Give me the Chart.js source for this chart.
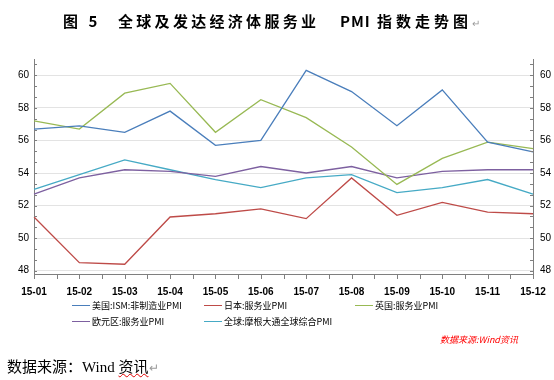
<!DOCTYPE html>
<html>
<head>
<meta charset="utf-8">
<script src="https://cdn.jsdelivr.net/npm/chart.js@4.4.1/dist/chart.umd.min.js"></script>
<style>
  body { margin: 0; background: #fff; }
  #wrap { position: relative; width: 554px; height: 380px; overflow: hidden; }
  #c { position: absolute; left: 0; top: 0; }
  .t { position: absolute; top: 12px; font: bold 15px "Noto Sans CJK SC", sans-serif; letter-spacing: 3.5px; line-height: 18px; color: #000; white-space: nowrap; }
  .pm { font-size: 10px; color: #999; font-weight: normal; letter-spacing: 0; }
  #legend { position: absolute; left: 0; top: 0; font: 9px "Noto Sans CJK SC", sans-serif; color: #000; }
  .li { position: absolute; white-space: nowrap; line-height: 10px; }
  .li i { display: inline-block; width: 18px; height: 1.5px; vertical-align: middle; margin-right: 2px; position: relative; top: -1px; }
  #src { position: absolute; left: 440px; top: 333px; font: italic 9px "Noto Sans CJK SC", sans-serif; color: #ff0000; white-space: nowrap; }
  #foot { position: absolute; left: 7px; top: 355px; font: 15px "Liberation Serif", "Noto Sans CJK SC", serif; color: #000; white-space: nowrap; }
  #foot u { text-decoration: underline wavy #e00000; text-decoration-thickness: 1px; }
</style>
</head>
<body>
<div id="wrap">
  <canvas id="c" width="554" height="380"></canvas>
  <div class="t" style="left:63px">图 5</div>
  <div class="t" style="left:118px;letter-spacing:3.3px">全球及发达经济体服务业</div>
  <div class="t" style="left:340px;letter-spacing:1px">PMI</div>
  <div class="t" style="left:377px;letter-spacing:4px">指数走势图<span class="pm">↵</span></div>
  <div id="legend"></div>
  <div id="src">数据来源:Wind资讯</div>
  <div id="foot">数据来源：Wind <u>资讯</u><span class="pm" style="font-size:12px">↵</span></div>
</div>
<script>
const months = ['15-01', '15-02', '15-03', '15-04', '15-05', '15-06', '15-07', '15-08', '15-09', '15-10', '15-11', '15-12'];

const usIsm   = [56.7, 56.9, 56.5, 57.8, 55.7, 56.0, 60.3, 59.0, 56.9, 59.1, 55.9, 55.3];
const japan   = [51.3, 48.5, 48.4, 51.3, 51.5, 51.8, 51.2, 53.7, 51.4, 52.2, 51.6, 51.5];
const uk      = [57.2, 56.7, 58.9, 59.5, 56.5, 58.5, 57.4, 55.6, 53.3, 54.9, 55.9, 55.5];
const euro    = [52.7, 53.7, 54.2, 54.1, 53.8, 54.4, 54.0, 54.4, 53.7, 54.1, 54.2, 54.2];
const global  = [53.0, 53.9, 54.8, 54.2, 53.6, 53.1, 53.7, 53.9, 52.8, 53.1, 53.6, 52.7];

const yTicks = [48, 50, 52, 54, 56, 58, 60];

const series = [
    { label: '美国:ISM:非制造业PMI', data: usIsm, color: '#4a7ebb' },
    { label: '日本:服务业PMI', data: japan, color: '#be4b48' },
    { label: '英国:服务业PMI', data: uk, color: '#98b954' },
    { label: '欧元区:服务业PMI', data: euro, color: '#7d60a0' },
    { label: '全球:摩根大通全球综合PMI', data: global, color: '#46aac5' }
];

// legend positions (html)
const legendPos = [[72, 301], [204, 301], [355, 301], [72, 317], [204, 317]];
const legend = document.getElementById('legend');
series.forEach((s, i) => {
    const d = document.createElement('div');
    d.className = 'li';
    d.style.left = legendPos[i][0] + 'px';
    d.style.top = legendPos[i][1] + 'px';
    d.innerHTML = '<i style="background:' + s.color + '"></i>' + s.label;
    legend.appendChild(d);
});

// axis lines + small tick marks like the original
const axisDecor = {
    id: 'axisDecor',
    afterDraw(chart) {
        const ctx = chart.ctx;
        const a = chart.chartArea;
        const x = chart.scales.x, y = chart.scales.y;
        ctx.save();
        ctx.strokeStyle = '#7f7f7f';
        ctx.lineWidth = 1;
        ctx.beginPath();
        for (let v = 48; v <= 61; v += 2 / 3) {
            const py = Math.round(y.getPixelForValue(v)) + 0.5;
            ctx.moveTo(a.left, py); ctx.lineTo(a.left + 3, py);
            ctx.moveTo(a.right - 3, py); ctx.lineTo(a.right, py);
        }
        for (let i = 0; i <= (months.length - 1) * 2; i++) {
            const k = Math.floor(i / 2);
            const p0 = x.getPixelForValue(k);
            const p1 = i % 2 ? x.getPixelForValue(k + 1) : p0;
            const px = Math.round((p0 + p1) / 2) + 0.5;
            ctx.moveTo(px, a.bottom); ctx.lineTo(px, a.bottom + 5);
        }
        ctx.stroke();
        ctx.restore();
    }
};

const yCommon = {
    type: 'linear',
    min: 47.8,
    max: 61,
    afterBuildTicks: (s) => { s.ticks = yTicks.map(v => ({ value: v })); },
    ticks: { font: { size: 10, family: 'Liberation Sans' }, color: '#000' },
    border: { display: true, color: '#7f7f7f' }
};

new Chart(document.getElementById('c'), {
    type: 'line',
    data: {
        labels: months,
        datasets: series.map(s => ({
            label: s.label,
            data: s.data,
            borderColor: s.color,
            backgroundColor: s.color,
            borderWidth: 1.3,
            pointRadius: 0,
            tension: 0,
            fill: false
        }))
    },
    options: {
        responsive: false,
        animation: false,
        layout: { padding: { top: 59, left: 0, right: 0, bottom: 0 } },
        plugins: { legend: { display: false }, tooltip: { enabled: false } },
        scales: {
            x: {
                type: 'category',
                offset: false,
                grid: { display: false },
                border: { display: true, color: '#7f7f7f' },
                ticks: { autoSkip: false, maxRotation: 0, padding: 4, font: { size: 10, weight: 'bold', family: 'Liberation Sans' }, color: '#000' },
                afterFit: (s) => { s.height = 106; }
            },
            y: Object.assign({}, yCommon, {
                position: 'left',
                grid: { color: '#e3e3e3', drawTicks: false },
                ticks: Object.assign({}, yCommon.ticks, { padding: 5 }),
                afterFit: (s) => { s.width = 34; }
            }),
            y2: Object.assign({}, yCommon, {
                position: 'right',
                grid: { display: false, drawTicks: false },
                ticks: Object.assign({}, yCommon.ticks, { padding: 7 }),
                afterFit: (s) => { s.width = 21; }
            })
        }
    },
    plugins: [axisDecor]
});
</script>
</body>
</html>
